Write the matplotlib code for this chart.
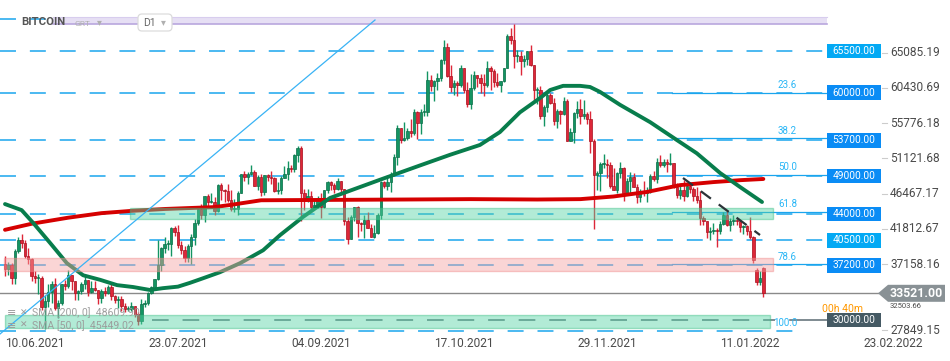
import numpy as np
import pandas as pd
import matplotlib
matplotlib.use('Agg')
import matplotlib.pyplot as plt
from matplotlib.patches import Rectangle, Polygon, FancyBboxPatch

plt.rcParams['font.family'] = ['Roboto', 'DejaVu Sans']
plt.rcParams['lines.scale_dashes'] = False

# ---------------- data (prices in thousand USD) ----------------
dates = pd.date_range('2021-06-10', '2022-01-24', freq='D')

opens = [
    # Jun
    37.4, 36.7, 37.3, 35.6, 39.1, 40.5, 40.2, 38.4, 38.1, 35.8, 35.5, 35.6, 31.7, 32.5, 33.7, 34.7, 31.6, 32.3, 34.7, 34.5, 35.9,
    # Jul
    35.1, 33.5, 33.8, 34.7, 35.3, 33.7, 34.2, 33.9, 32.9, 33.8, 33.5, 34.3, 33.1, 32.7, 32.8, 31.9, 31.4, 31.5, 31.8, 30.8,
    29.8, 32.1, 32.3, 33.6, 34.3, 35.4, 37.3, 39.5, 40.0, 40.0, 42.2,
    # Aug
    41.6, 39.9, 39.2, 38.2, 39.8, 40.9, 42.8, 44.6, 43.8, 46.3, 45.6, 45.6, 44.4, 47.8, 47.1, 47.0, 45.9, 44.7, 44.7, 46.8,
    49.3, 48.9, 49.3, 49.5, 47.7, 48.9, 46.9, 49.1, 48.9, 48.8, 47.0,
    # Sep
    47.1, 48.8, 49.3, 50.0, 49.9, 51.8, 52.7, 46.8, 46.1, 46.4, 44.9, 45.2, 46.0, 44.9, 47.1, 48.2, 47.8, 47.3, 48.3, 47.3,
    43.0, 40.7, 43.6, 44.9, 42.8, 42.7, 43.2, 42.2, 41.0, 41.5,
    # Oct
    43.8, 48.2, 47.7, 48.2, 49.1, 51.5, 55.3, 53.8, 54.0, 55.0, 54.7, 57.5, 56.0, 57.4, 57.4, 61.7, 60.9, 61.5, 62.0, 64.3,
    66.0, 62.2, 60.7, 61.3, 61.0, 63.2, 60.3, 58.5, 60.6, 62.3, 61.9,
    # Nov
    61.3, 61.0, 63.2, 62.9, 61.4, 61.0, 61.5, 63.3, 67.5, 66.9, 64.9, 64.9, 64.2, 64.4, 65.5, 63.6, 60.3, 60.4, 56.9, 58.1,
    59.7, 58.7, 56.3, 57.6, 57.2, 58.9, 53.6, 54.8, 57.3, 57.8,
    # Dec
    56.9, 57.2, 56.5, 53.6, 49.2, 49.4, 50.6, 50.6, 50.5, 47.7, 47.2, 49.4, 50.1, 46.7, 48.4, 48.9, 47.6, 46.2, 46.9, 46.7,
    46.9, 49.0, 48.6, 50.8, 50.4, 50.8, 50.6, 50.7, 47.5, 46.5, 47.1,
    # Jan
    46.3, 47.7, 47.3, 46.4, 45.9, 43.5, 43.1, 41.6, 41.8, 41.9, 41.8, 42.7, 43.9, 42.6, 43.1, 43.2, 43.1, 42.3, 42.4, 41.7,
    40.9, 36.6, 35.0, 36.8,
]
highs = [
    38.4, 37.7, 37.5, 39.4, 41.0, 41.3, 40.5, 39.5, 38.2, 36.4, 36.1, 35.8, 33.3, 34.8, 35.2, 35.5, 32.7, 34.7, 35.3, 36.6, 36.0,
    35.1, 34.0, 35.0, 36.0, 35.3, 35.1, 35.1, 33.9, 34.1, 34.3, 34.6, 34.7, 33.3, 33.1, 33.2, 32.3, 31.9, 32.4, 31.9, 31.1,
    32.8, 32.6, 33.7, 34.5, 35.4, 40.6, 39.6, 40.9, 40.6, 42.3, 42.4,
    42.6, 40.4, 39.8, 40.0, 41.4, 43.3, 44.7, 45.3, 46.4, 46.6, 46.7, 46.2, 47.9, 48.1, 47.3, 48.0, 47.1, 46.0, 47.0, 49.3,
    49.7, 49.5, 50.4, 49.8, 49.2, 49.3, 49.1, 49.3, 49.6, 48.9, 48.2,
    49.0, 50.3, 51.0, 50.5, 51.9, 52.9, 52.9, 47.3, 47.3, 47.0, 45.9, 46.4, 46.8, 47.2, 48.4, 48.4, 48.1, 48.8, 48.4, 47.3,
    43.6, 43.9, 44.9, 45.0, 42.9, 43.9, 44.3, 42.7, 42.6, 44.1,
    48.4, 48.3, 49.2, 49.5, 51.9, 55.7, 55.3, 56.1, 55.4, 56.5, 57.8, 57.6, 57.9, 58.5, 62.8, 62.3, 61.7, 62.6, 64.4, 67.0,
    66.6, 63.7, 61.7, 61.5, 63.7, 63.3, 61.4, 62.4, 62.9, 62.3, 62.4,
    62.4, 64.2, 63.5, 63.1, 62.6, 61.6, 63.3, 67.7, 68.5, 69.0, 65.6, 65.5, 65.0, 65.5, 66.3, 63.6, 60.8, 60.9, 58.4, 59.9,
    60.0, 59.3, 57.8, 57.7, 59.4, 59.2, 55.3, 57.4, 58.9, 59.2,
    59.0, 57.4, 57.6, 53.9, 49.7, 50.9, 51.9, 51.2, 50.8, 50.1, 49.5, 50.8, 50.2, 48.7, 49.5, 49.4, 48.0, 47.3, 48.3, 47.5,
    49.3, 49.6, 51.4, 51.8, 51.2, 51.2, 52.0, 50.7, 48.1, 47.9, 48.5,
    47.9, 47.9, 47.5, 47.5, 47.0, 43.7, 43.1, 42.3, 42.8, 42.2, 43.0, 44.3, 44.4, 43.4, 43.8, 43.5, 43.2, 42.6, 42.5, 43.6,
    41.1, 36.8, 36.4, 37.0,
]
lows = [
    35.8, 35.9, 34.7, 34.8, 38.8, 39.5, 38.2, 37.4, 35.2, 34.9, 33.4, 31.3, 28.8, 31.7, 32.3, 31.3, 30.2, 32.0, 33.9, 34.2, 34.0,
    32.7, 32.7, 33.4, 34.1, 33.2, 33.6, 33.8, 32.1, 32.3, 33.1, 33.4, 32.7, 32.3, 31.6, 31.2, 31.1, 31.2, 31.2, 30.4, 29.3,
    29.5, 31.7, 32.0, 33.4, 33.9, 35.3, 36.4, 38.8, 39.3, 38.4, 41.1,
    39.5, 38.7, 37.6, 37.6, 37.4, 39.9, 42.5, 43.3, 42.9, 44.8, 45.4, 43.8, 44.3, 45.9, 45.6, 45.6, 44.4, 44.3, 43.9, 46.7,
    48.3, 48.0, 49.1, 47.7, 47.2, 46.4, 46.5, 48.4, 48.0, 46.9, 46.6,
    46.6, 48.7, 48.5, 49.5, 49.5, 50.9, 43.0, 44.5, 45.6, 44.2, 44.8, 44.8, 43.5, 44.8, 46.8, 47.1, 46.8, 47.1, 46.9, 42.6,
    40.0, 40.7, 43.1, 40.9, 41.7, 40.8, 42.2, 40.9, 40.8, 41.4,
    43.3, 47.4, 47.2, 46.9, 49.0, 50.4, 53.4, 53.6, 53.7, 54.1, 54.4, 53.9, 54.6, 56.9, 56.9, 60.2, 58.9, 60.3, 61.5, 63.8,
    62.1, 60.1, 59.7, 59.6, 60.7, 59.9, 58.1, 57.9, 60.3, 60.8, 60.0,
    59.5, 60.7, 60.4, 60.7, 60.7, 60.1, 61.4, 63.3, 66.4, 63.3, 64.1, 62.3, 63.4, 63.6, 63.5, 58.6, 58.5, 56.5, 55.6, 57.5,
    58.5, 55.7, 55.4, 55.9, 57.0, 53.6, 53.6, 53.4, 56.7, 55.9,
    56.5, 55.9, 52.0, 42.0, 47.1, 47.0, 50.1, 48.7, 47.4, 47.2, 46.8, 48.7, 45.7, 46.5, 46.6, 47.6, 45.5, 45.6, 46.4, 45.6,
    46.7, 48.4, 48.1, 50.2, 50.2, 49.5, 50.5, 47.4, 46.1, 46.0, 45.7,
    46.2, 46.7, 45.7, 45.5, 42.5, 42.5, 40.8, 40.6, 41.3, 39.6, 41.3, 42.5, 42.4, 41.8, 42.6, 42.6, 41.6, 41.3, 41.2, 40.7,
    37.5, 34.6, 34.6, 33.0,
]
closes = [
    36.7, 37.3, 35.6, 39.1, 40.5, 40.2, 38.4, 38.1, 35.8, 35.5, 35.6, 31.7, 32.5, 33.7, 34.7, 31.6, 32.3, 34.7, 34.5, 35.9, 35.1,
    33.5, 33.8, 34.7, 35.3, 33.7, 34.2, 33.9, 32.9, 33.8, 33.5, 34.3, 33.1, 32.7, 32.8, 31.9, 31.4, 31.5, 31.8, 30.8, 29.8,
    32.1, 32.3, 33.6, 34.3, 35.4, 37.3, 39.5, 40.0, 40.0, 42.2, 41.6,
    39.9, 39.2, 38.2, 39.8, 40.9, 42.8, 44.6, 43.8, 46.3, 45.6, 45.6, 44.4, 47.8, 47.1, 47.0, 45.9, 44.7, 44.7, 46.8, 49.3,
    48.9, 49.3, 49.5, 47.7, 48.9, 46.9, 49.1, 48.9, 48.8, 47.0, 47.1,
    48.8, 49.3, 50.0, 49.9, 51.8, 52.7, 46.8, 46.1, 46.4, 44.9, 45.2, 46.0, 44.9, 47.1, 48.2, 47.8, 47.3, 48.3, 47.3, 43.0,
    40.7, 43.6, 44.9, 42.8, 42.7, 43.2, 42.2, 41.0, 41.5, 43.8,
    48.2, 47.7, 48.2, 49.1, 51.5, 55.3, 53.8, 54.0, 55.0, 54.7, 57.5, 56.0, 57.4, 57.4, 61.7, 60.9, 61.5, 62.0, 64.3, 66.0,
    62.2, 60.7, 61.3, 61.0, 63.2, 60.3, 58.5, 60.6, 62.3, 61.9, 61.3,
    61.0, 63.2, 62.9, 61.4, 61.0, 61.5, 63.3, 67.5, 66.9, 64.9, 64.9, 64.2, 64.4, 65.5, 63.6, 60.3, 60.4, 56.9, 58.1, 59.7,
    58.7, 56.3, 57.6, 57.2, 58.9, 53.6, 54.8, 57.3, 57.8, 56.9,
    57.2, 56.5, 53.6, 49.2, 49.4, 50.6, 50.6, 50.5, 47.7, 47.2, 49.4, 50.1, 46.7, 48.4, 48.9, 47.6, 46.2, 46.9, 46.7, 46.9,
    49.0, 48.6, 50.8, 50.4, 50.8, 50.6, 50.7, 47.5, 46.5, 47.1, 46.3,
    47.7, 47.3, 46.4, 45.9, 43.5, 43.1, 41.6, 41.8, 41.9, 41.8, 42.7, 43.9, 42.6, 43.1, 43.2, 43.1, 42.3, 42.4, 41.7, 40.9,
    37.9, 35.0, 35.6, 33.521,
]

# moving averages (day index from 10.06.2021, value)
sma200_days = [0, 8, 19, 29, 38, 48, 63, 68, 77, 98, 120, 140, 160, 173, 183, 193, 203, 213, 221, 228]
sma200_vals = [41.9, 42.7, 43.5, 44.1, 44.4, 44.65, 44.9, 45.2, 45.8, 45.85, 45.9, 45.95, 45.9, 45.95, 46.3, 46.9, 47.8,
               48.2, 48.45, 48.61]
sma50_days = [0, 5, 8.5, 13.5, 18.6, 23.5, 28.6, 33.7, 38.5, 43.6, 47.5, 52, 55.6, 59.5, 64.6, 70.7, 77.6, 82.7, 89.6,
              97.7, 112.7, 124.8, 133.8, 142.8, 148.8, 154.8, 160.9, 163.9, 167.8, 172.9, 175.9, 178.9, 184.9, 194,
              202, 208, 215, 221, 227.6]
sma50_vals = [45.3, 44.5, 42.8, 40.2, 37.5, 35.9, 35.3, 34.6, 34.35, 33.96, 34.2, 34.4, 34.9, 35.5, 36.3, 37.5, 39.2, 41.2,
              43.6, 46.1, 48.5, 50.4, 51.8, 53.1, 54.8, 57.4, 59.3, 60.35, 60.9, 60.9, 60.75, 60.1, 58.4, 56.1,
              53.75, 52.0, 49.4, 47.55, 45.57]

level_values = [65.5, 60.0, 53.7, 49.0, 44.0, 40.5, 37.2, 30.0]
level_texts = ['65500.00', '60000.00', '53700.00', '49000.00', '44000.00', '40500.00', '37200.00', '30000.00']
level_colors = ['#03a9f4', '#0a8cf5', '#0a8cf5', '#0a8cf5', '#0a8cf5', '#03a9f4', '#0a8cf5', '#455a64']

fib_high, fib_low = 69.74, 28.55
fib_ratios = [0.0, 23.6, 38.2, 50.0, 61.8, 78.6, 100.0]

axis_ticks = [65085.19, 60430.69, 55776.18, 51121.68, 46467.17, 41812.67, 37158.16, 32503.66, 27849.15]
date_ticks = [0, 43, 86, 129, 172, 215, 258]
date_texts = ['10.06.2021', '23.07.2021', '04.09.2021', '17.10.2021', '29.11.2021', '11.01.2022', '23.02.2022']

last_price = 33.521
sma_legend = ['SMA [200, 0]  48609.90', 'SMA [50, 0]  45449.02']

# ---------------- figure ----------------
W, H = 950, 361
PX_DAY = 3.326      # pixels per day
PX_K = 7.577        # pixels per 1000 USD
fig = plt.figure(figsize=(W / 100, H / 100), dpi=100)
ax = fig.add_axes([0, 0, 1, 1])
ax.set_xlim(-5 / PX_DAY, (W - 5) / PX_DAY)
ax.set_ylim(65.5 - (H - 51) / PX_K, 65.5 + 51 / PX_K)
ax.axis('off')


def dx(px):
    return (px - 5) / PX_DAY


def dy(py):
    return 65.5 - (py - 51) / PX_K


CYAN = '#1aa5ee'
n = len(closes)
idx = np.arange(n)
o = np.array(opens); h = np.array(highs); l = np.array(lows); c = np.array(closes)
h = np.maximum(h, np.maximum(o, c)); l = np.minimum(l, np.minimum(o, c))

# ---- horizontal dashed levels ----
dash = (0, (11.5, 10))
for v in level_values[:-1]:
    ax.plot([dx(0), dx(827)], [v, v], color=CYAN, lw=1.1, ls=dash, zorder=1)
# grey 30000 line
ax.plot([dx(152), dx(775)], [30.0, 30.0], color='#5b6b73', lw=1.1, ls=(0, (12, 10)), zorder=1)
ax.plot([dx(790), dx(827)], [30.0, 30.0], color='#5b6b73', lw=1.1, zorder=1)
# fib 0 and 100
fib_vals = [fib_high - r / 100 * (fib_high - fib_low) for r in fib_ratios]
ax.plot([dx(0), dx(827)], [fib_vals[0]] * 2, color=CYAN, lw=1.1, ls=dash, zorder=1)
ax.plot([dx(0), dx(803)], [fib_vals[-1]] * 2, color=CYAN, lw=1.1, ls=dash, zorder=1)
for r, v in zip(fib_ratios[1:-1], fib_vals[1:-1]):
    ax.plot([dx(672), dx(827)], [v, v], color=CYAN, lw=0.9, zorder=1)
for r, v in zip(fib_ratios[1:], fib_vals[1:]):
    ax.text(dx(797), v + 1.0, f'{r:.1f}', color='#29b6f6', fontsize=7, ha='right', va='center', zorder=12)

# current price line
ax.plot([dx(0), dx(878)], [last_price] * 2, color='#8a8a8a', lw=1.0, zorder=2)

# ---- candles ----
up = c >= o
col = np.where(up, '#139462', '#dd2738')
edge = np.where(up, '#0c6e48', '#a8101f')
ax.vlines(idx, l, h, colors=col, lw=1.0, zorder=3)
body = np.maximum(np.abs(c - o), 0.12)
ax.bar(idx, body, bottom=np.minimum(o, c), width=0.72, color=col, edgecolor=edge, linewidth=0.5, zorder=3.5)

# ---- SMAs ----
ax.plot(sma200_days, sma200_vals, color='#d50000', lw=2.8, solid_capstyle='round', zorder=4)
ax.plot(sma50_days, sma50_vals, color='#087d4c', lw=2.8, solid_capstyle='round', zorder=4)

# ---- zones ----
ax.add_patch(Rectangle((dx(53), dy(24.5)), dx(827) - dx(53), dy(17) - dy(24.5), facecolor='#e6dff4',
                       edgecolor='none', zorder=1.5))
ax.plot([dx(53), dx(827)], [dy(24.5)] * 2, color='#b9a7de', lw=1.2, zorder=1.6)
ax.plot([dx(53), dx(827)], [dy(17)] * 2, color='#d8cdee', lw=0.8, zorder=1.6)
ax.add_patch(Rectangle((dx(130), 43.33), dx(773) - dx(130), 44.78 - 43.33, facecolor='#54d3a4', alpha=0.45,
                       edgecolor='#3cbf86', lw=1.0, zorder=5))
ax.add_patch(Rectangle((dx(4), 36.47), dx(773) - dx(4), 38.18 - 36.47, facecolor='#f6a2a2', alpha=0.45,
                       edgecolor='#f08888', lw=1.0, zorder=5))
ax.add_patch(Rectangle((dx(5), 28.94), dx(770) - dx(5), 30.66 - 28.94, facecolor='#54d3a4', alpha=0.45,
                       edgecolor='#3cbf86', lw=1.0, zorder=5))

# ---- trend lines ----
ax.plot([dx(0), dx(375)], [dy(334), dy(20)], color='#39b3f5', lw=0.9, zorder=6)
ax.plot([dx(683), dx(760)], [dy(178), dy(235)], color='#2b3338', lw=1.6, ls=(0, (9, 7)), zorder=6)

# ---- right side labels ----
for v, t, cc in zip(level_values, level_texts, level_colors):
    ax.add_patch(Rectangle((dx(827), v - 7.2 / PX_K), dx(881) - dx(827), 14.4 / PX_K, facecolor=cc,
                           edgecolor='none', zorder=11))
    ax.text((dx(827) + dx(881)) / 2, v, t, color='white', fontsize=7.3, ha='center', va='center', zorder=12)

# candle countdown, peeking out above the 30000 box
ax.text(dx(822), dy(308.5), '00h 40m', color='#ff9800', fontsize=7.5, ha='left', va='center', zorder=10.5)

# price tag
tag_y0, tag_y1 = last_price - 8.5 / PX_K, last_price + 8.5 / PX_K
tag = Polygon([(dx(878), last_price), (dx(888), tag_y1), (dx(945), tag_y1), (dx(945), tag_y0),
               (dx(888), tag_y0)], closed=True, facecolor='#899195', edgecolor='none', zorder=13)
ax.add_patch(tag)
ax.text(dx(916), last_price, f'{last_price * 1000:.2f}', color='white', fontsize=8.8, fontweight='bold',
        ha='center', va='center', zorder=14)

for tv in axis_ticks:
    p = tv / 1000
    yy = p + 0.2 if p > 28.5 else dy(330)
    if abs(p - last_price) < 1.5:
        # label mostly hidden behind the price tag: only its lower edge shows
        yy = dy(305.5)
        ax.text(dx(890), yy, f'{tv:.2f}', color='#4a4a4a', fontsize=5.5, ha='left', va='center', zorder=9)
        continue
    ax.plot([dx(882), dx(887)], [yy, yy], color='#cccccc', lw=0.8, zorder=9)
    ax.text(dx(890), yy, f'{tv:.2f}', color='#4a4a4a', fontsize=8.6, ha='left', va='center', zorder=9)

# dates
for d, t in zip(date_ticks, date_texts):
    ax.text(d, dy(343), t, color='#4a4a4a', fontsize=8.6, ha='left', va='center', zorder=9)

# top-left header
ax.text(dx(21), dy(22.5), 'BITCOIN', color='#555555', fontsize=8.2, fontweight='bold', ha='left', va='center',
        zorder=12)
ax.text(dx(74), dy(24), 'GRT', color='#b0b0b0', fontsize=6, ha='left', va='center', zorder=12)
ax.text(dx(97), dy(22), '▾', color='#b0b0b0', fontsize=7, ha='left', va='center', zorder=12,
        family=['DejaVu Sans'])
ax.add_patch(FancyBboxPatch((dx(138), dy(31)), dx(172) - dx(138), dy(14) - dy(31),
                            boxstyle='round,pad=0,rounding_size=1.2', facecolor='white', edgecolor='#dcdcdc',
                            lw=0.9, zorder=11, mutation_aspect=PX_DAY / PX_K))
ax.text(dx(143), dy(23), 'D1', color='#666666', fontsize=7.5, ha='left', va='center', zorder=12)
ax.text(dx(161), dy(22), '▾', color='#b0b0b0', fontsize=7, ha='left', va='center', zorder=12,
        family=['DejaVu Sans'])

# SMA legend
for k, t in enumerate(sma_legend):
    yy = dy(313 + 12.5 * k)
    ax.text(dx(7), yy, '≡', color='#9a9a9a', fontsize=8, ha='left', va='center', zorder=12,
            family=['DejaVu Sans'])
    ax.text(dx(20), yy, '✕', color='#9a9a9a', fontsize=6.5, ha='left', va='center', zorder=12,
            family=['DejaVu Sans'])
    ax.text(dx(32), yy, t, color='#9a9a9a', fontsize=7.6, ha='left', va='center', zorder=12, alpha=0.95)

fig.savefig('out.png', dpi=100)
